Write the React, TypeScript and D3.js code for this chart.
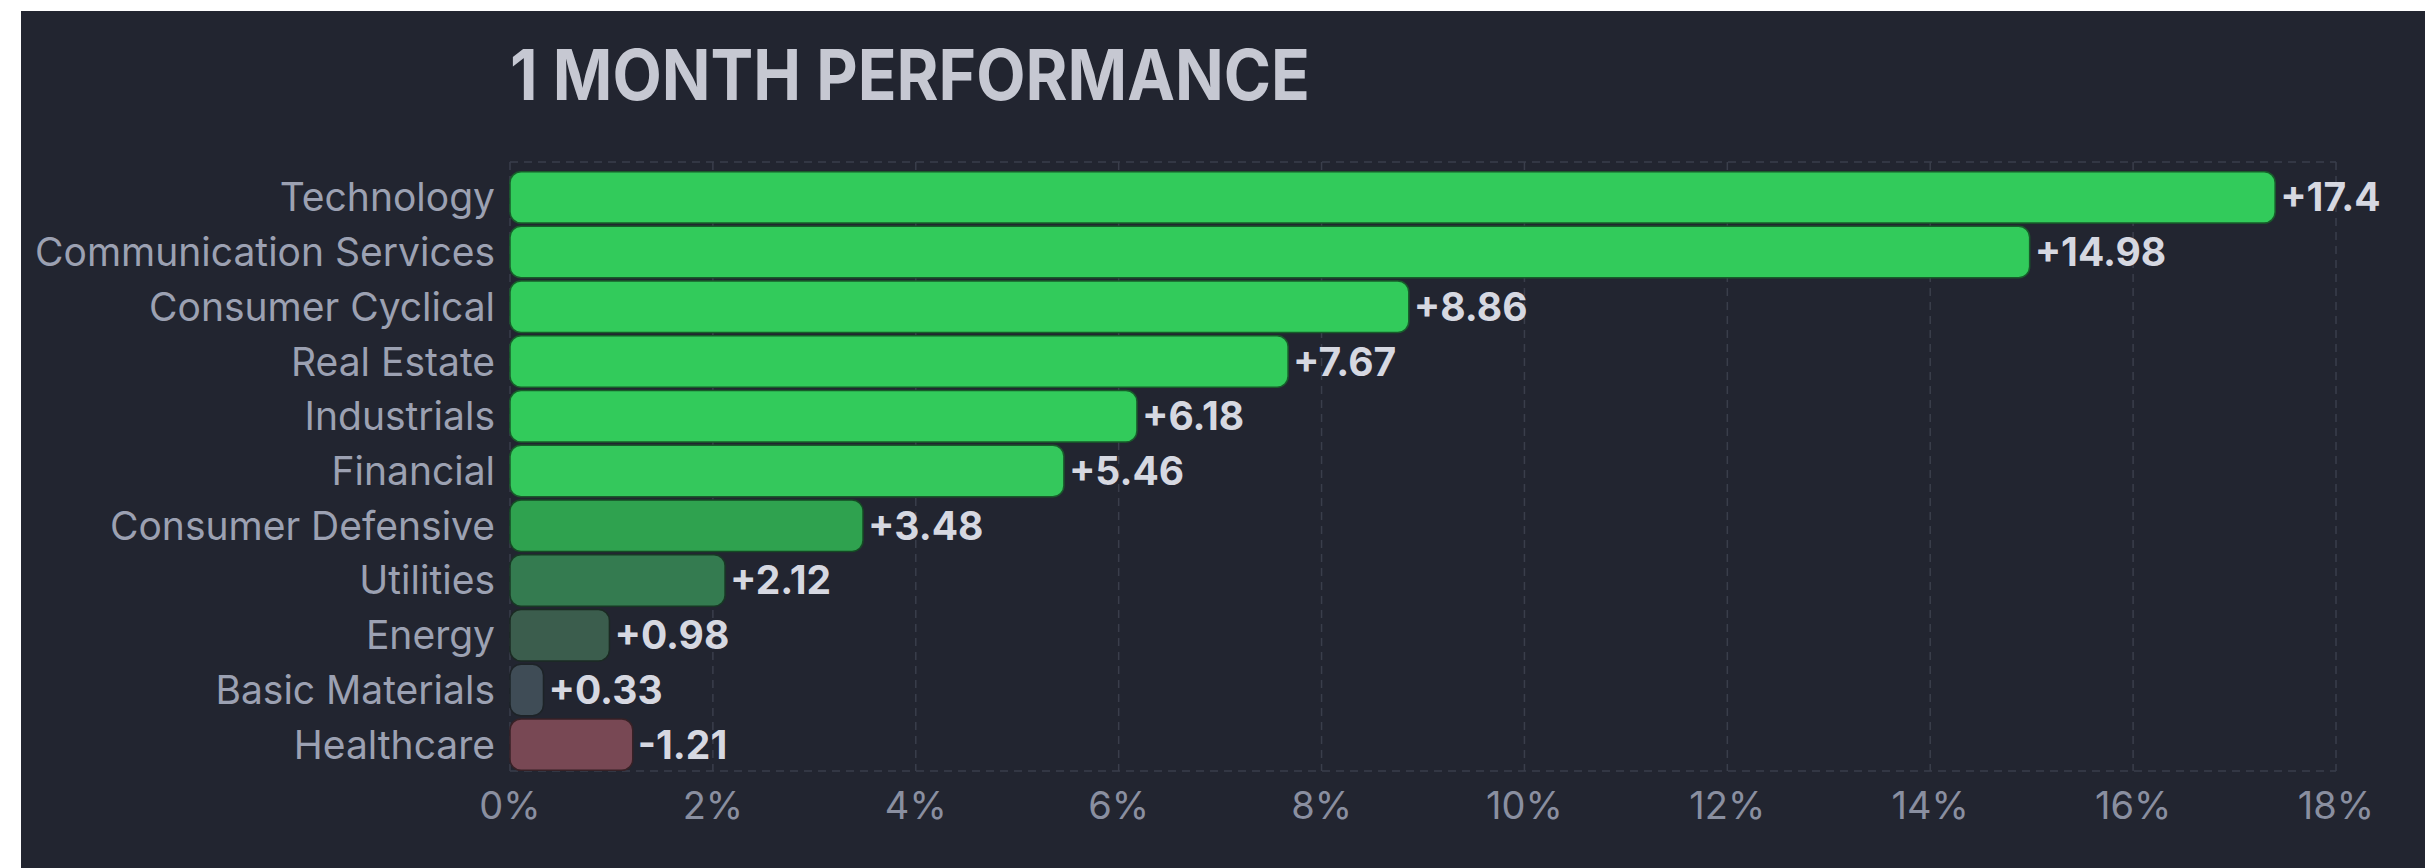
import React from 'react';
import * as d3 from 'd3';

// sectors, top to bottom
const sectors = [
  'Technology',
  'Communication Services',
  'Consumer Cyclical',
  'Real Estate',
  'Industrials',
  'Financial',
  'Consumer Defensive',
  'Utilities',
  'Energy',
  'Basic Materials',
  'Healthcare',
];
const perf = [17.4, 14.98, 8.86, 7.67, 6.18, 5.46, 3.48, 2.12, 0.98, 0.33, -1.21];
const barColors = [
  '#32cb5b',
  '#32cb5b',
  '#32cb5b',
  '#32cb5b',
  '#32cb5b',
  '#34c85c',
  '#2fa24f',
  '#347b50',
  '#3b5d4d',
  '#3f4c56',
  '#784854',
];
const xTicks = [0, 2, 4, 6, 8, 10, 12, 14, 16, 18];

const W = 2425;
const H = 868;

export default function App() {
  const x = d3.scaleLinear().domain([0, 18]).range([510, 2336]);
  const y = d3
    .scaleBand<string>()
    .domain(sectors)
    .range([170, 772])
    .paddingInner(0.06)
    .paddingOuter(0.03);

  const gridTop = 162;
  const gridBottom = 771;
  const fmt = (v: number) => (v > 0 ? '+' : '') + v;

  return (
    <svg
      width={W}
      height={H}
      style={{ position: 'absolute', left: 0, top: 0, display: 'block' }}
      fontFamily="Inter, Roboto, sans-serif"
    >
      <rect x={0} y={0} width={W} height={H} fill="#ffffff" />
      <rect x={21} y={11} width={W - 21} height={H - 11} fill="#222530" />

      <text
        x={510}
        y={100}
        fontSize={70}
        fontWeight="bold"
        fill="#c6c8d2"
        textLength={800}
        lengthAdjust="spacingAndGlyphs"
      >
        1 MONTH PERFORMANCE
      </text>

      {/* grid */}
      {xTicks.map((t) => (
        <line
          key={'g' + t}
          x1={x(t)}
          x2={x(t)}
          y1={gridTop}
          y2={gridBottom}
          stroke="#3a3e4b"
          strokeWidth={1.5}
          strokeDasharray="8,6"
        />
      ))}
      <line x1={x(0)} x2={x(18)} y1={gridTop} y2={gridTop} stroke="#3a3e4b" strokeWidth={1.5} strokeDasharray="8,6" />
      <line x1={x(0)} x2={x(18)} y1={gridBottom} y2={gridBottom} stroke="#3a3e4b" strokeWidth={1.5} strokeDasharray="8,6" />

      {/* bars */}
      {sectors.map((s, i) => {
        const v = Math.abs(perf[i]);
        const c = barColors[i];
        const cy = (y(s) as number) + y.bandwidth() / 2;
        return (
          <g key={s}>
            <rect
              x={x(0)}
              y={y(s)}
              width={x(v) - x(0)}
              height={y.bandwidth()}
              rx={11}
              fill={c}
              stroke={d3.color(c)!.darker(2.2).formatHex()}
              strokeWidth={1.5}
            />
            <text
              x={x(v) + 5}
              y={cy}
              dy="0.36em"
              fontSize={39}
              fontWeight="bold"
              fill="#d6d8e1"
            >
              {fmt(perf[i])}
            </text>
            <text
              x={495}
              y={cy}
              dy="0.36em"
              textAnchor="end"
              fontSize={39}
              fill="#9ca1b2"
            >
              {s}
            </text>
          </g>
        );
      })}

      {/* x axis labels */}
      {xTicks.map((t) => (
        <text
          key={'t' + t}
          x={x(t)}
          y={805}
          dy="0.36em"
          textAnchor="middle"
          fontSize={38}
          fill="#8a8fa0"
        >
          {t + '%'}
        </text>
      ))}
    </svg>
  );
}
